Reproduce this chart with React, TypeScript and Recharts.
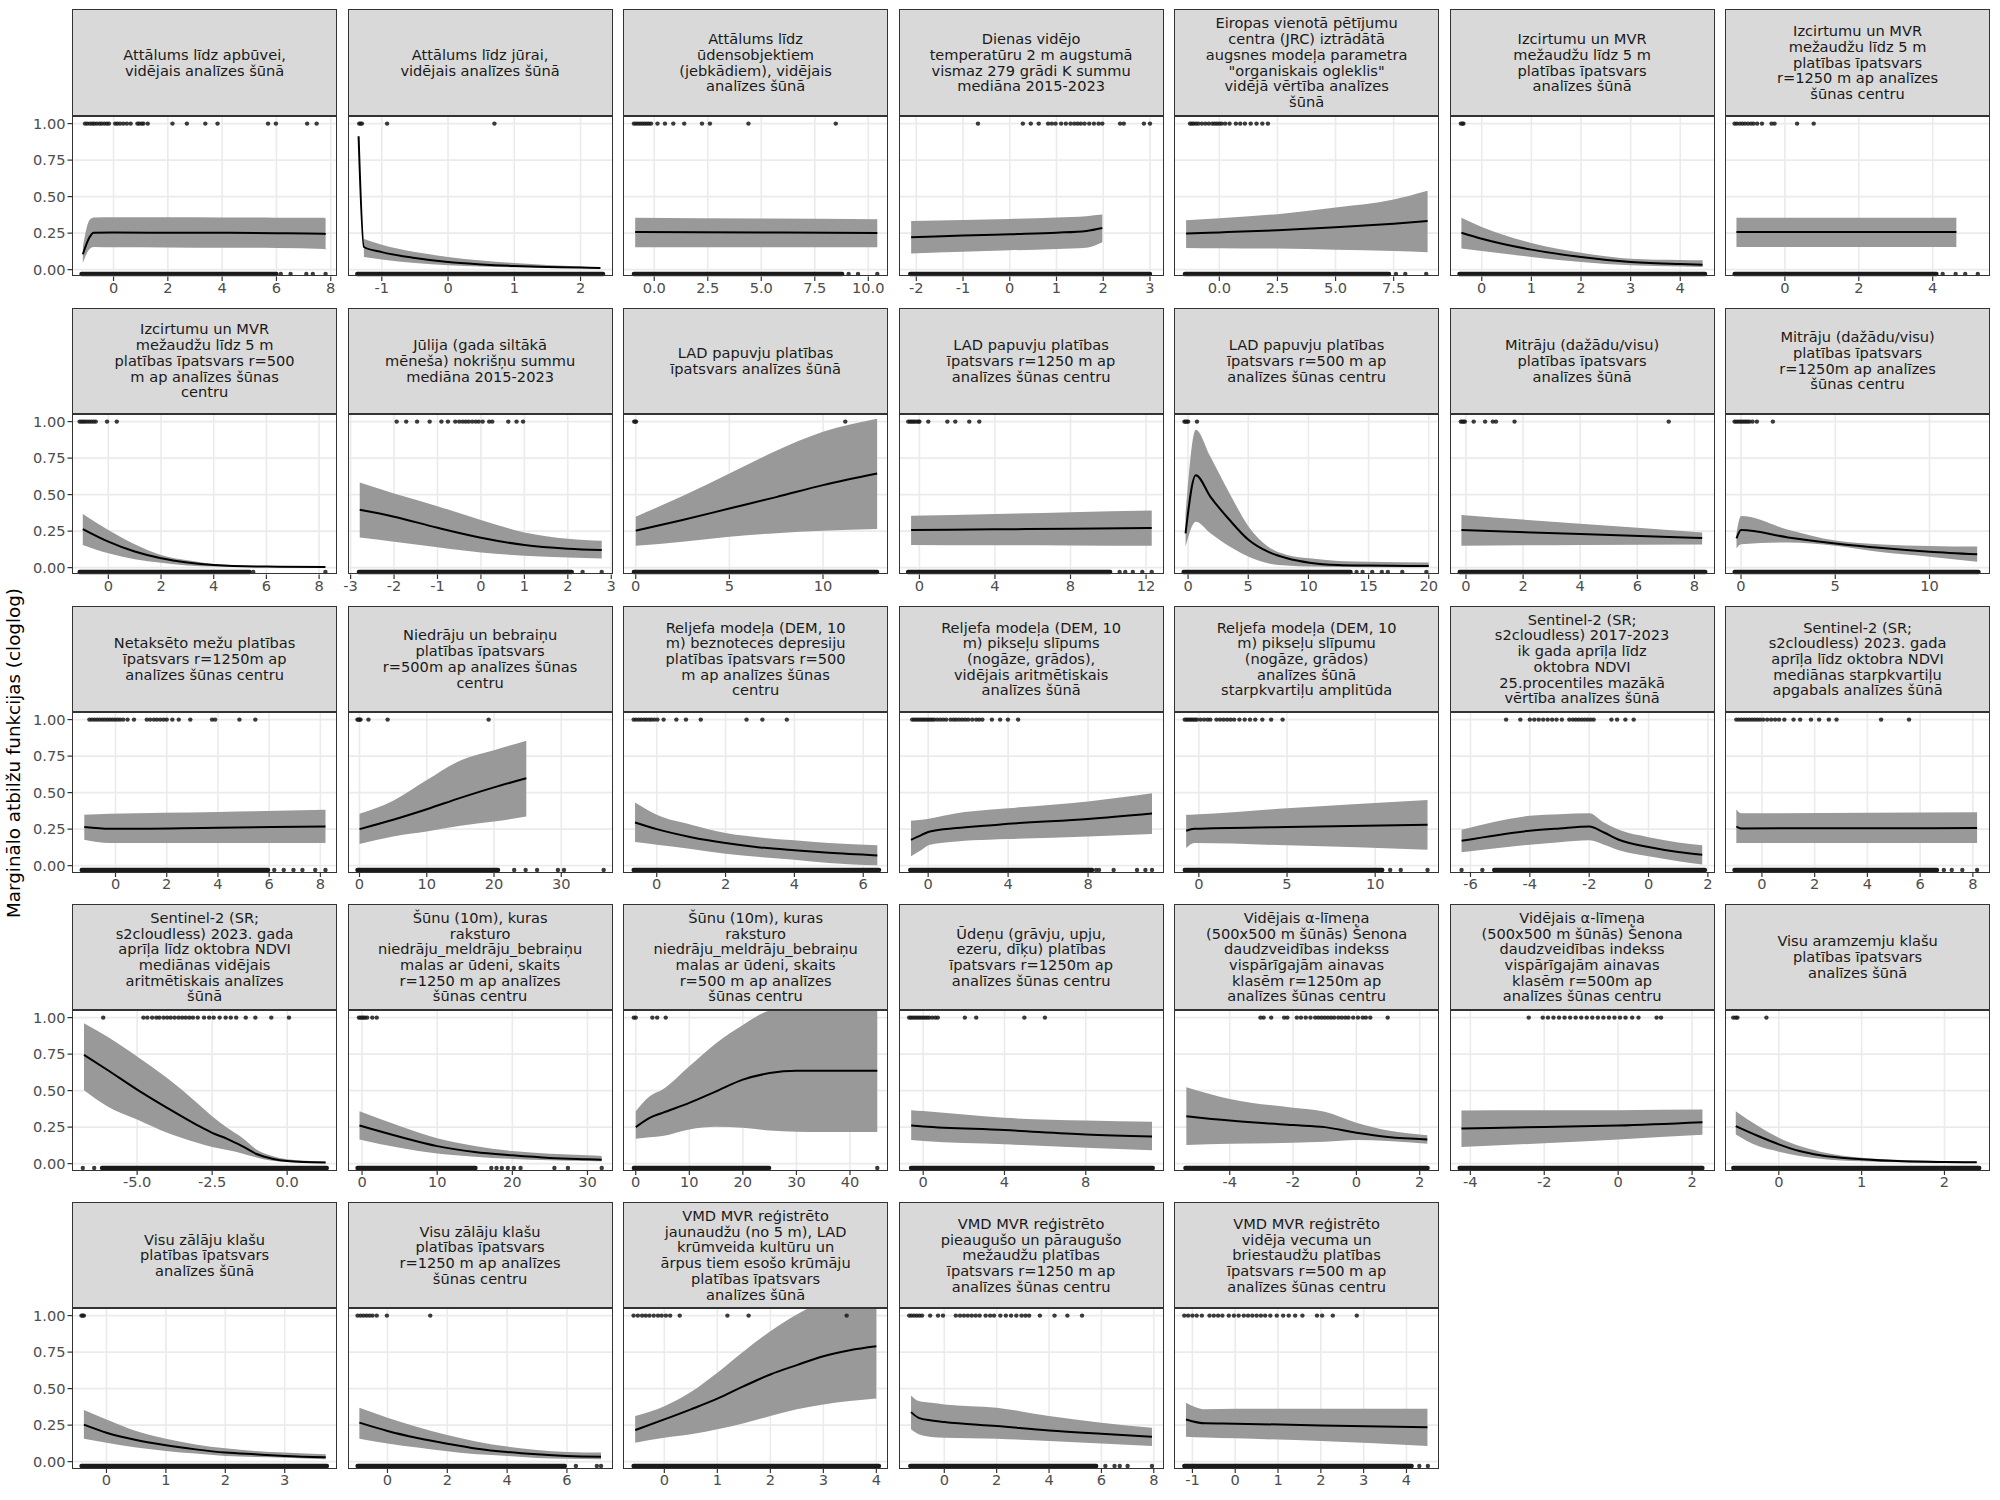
import React from 'react';
import { ComposedChart, Area, Line, Scatter, XAxis, YAxis, ReferenceLine } from 'recharts';

// ---------------- DATA ----------------
const TITLES: string[][] = [
  ['Attālums līdz apbūvei,', 'vidējais analīzes šūnā'],
  ['Attālums līdz jūrai,', 'vidējais analīzes šūnā'],
  ['Attālums līdz', 'ūdensobjektiem', '(jebkādiem), vidējais', 'analīzes šūnā'],
  ['Dienas vidējo', 'temperatūru 2 m augstumā', 'vismaz 279 grādi K summu', 'mediāna 2015-2023'],
  ['Eiropas vienotā pētījumu', 'centra (JRC) iztrādātā', 'augsnes modeļa parametra', '"organiskais ogleklis"', 'vidējā vērtība analīzes', 'šūnā'],
  ['Izcirtumu un MVR', 'mežaudžu līdz 5 m', 'platības īpatsvars', 'analīzes šūnā'],
  ['Izcirtumu un MVR', 'mežaudžu līdz 5 m', 'platības īpatsvars', 'r=1250 m ap analīzes', 'šūnas centru'],
  ['Izcirtumu un MVR', 'mežaudžu līdz 5 m', 'platības īpatsvars r=500', 'm ap analīzes šūnas', 'centru'],
  ['Jūlija (gada siltākā', 'mēneša) nokrišņu summu', 'mediāna 2015-2023'],
  ['LAD papuvju platības', 'īpatsvars analīzes šūnā'],
  ['LAD papuvju platības', 'īpatsvars r=1250 m ap', 'analīzes šūnas centru'],
  ['LAD papuvju platības', 'īpatsvars r=500 m ap', 'analīzes šūnas centru'],
  ['Mitrāju (dažādu/visu)', 'platības īpatsvars', 'analīzes šūnā'],
  ['Mitrāju (dažādu/visu)', 'platības īpatsvars', 'r=1250m ap analīzes', 'šūnas centru'],
  ['Netaksēto mežu platības', 'īpatsvars r=1250m ap', 'analīzes šūnas centru'],
  ['Niedrāju un bebraiņu', 'platības īpatsvars', 'r=500m ap analīzes šūnas', 'centru'],
  ['Reljefa modeļa (DEM, 10', 'm) beznoteces depresiju', 'platības īpatsvars r=500', 'm ap analīzes šūnas', 'centru'],
  ['Reljefa modeļa (DEM, 10', 'm) pikseļu slīpums', '(nogāze, grādos),', 'vidējais aritmētiskais', 'analīzes šūnā'],
  ['Reljefa modeļa (DEM, 10', 'm) pikseļu slīpumu', '(nogāze, grādos)', 'analīzes šūnā', 'starpkvartiļu amplitūda'],
  ['Sentinel-2 (SR;', 's2cloudless) 2017-2023', 'ik gada aprīļa līdz', 'oktobra NDVI', '25.procentiles mazākā', 'vērtība analīzes šūnā'],
  ['Sentinel-2 (SR;', 's2cloudless) 2023. gada', 'aprīļa līdz oktobra NDVI', 'mediānas starpkvartiļu', 'apgabals analīzes šūnā'],
  ['Sentinel-2 (SR;', 's2cloudless) 2023. gada', 'aprīļa līdz oktobra NDVI', 'mediānas vidējais', 'aritmētiskais analīzes', 'šūnā'],
  ['Šūnu (10m), kuras', 'raksturo', 'niedrāju_meldrāju_bebraiņu', 'malas ar ūdeni, skaits', 'r=1250 m ap analīzes', 'šūnas centru'],
  ['Šūnu (10m), kuras', 'raksturo', 'niedrāju_meldrāju_bebraiņu', 'malas ar ūdeni, skaits', 'r=500 m ap analīzes', 'šūnas centru'],
  ['Ūdeņu (grāvju, upju,', 'ezeru, dīķu) platības', 'īpatsvars r=1250m ap', 'analīzes šūnas centru'],
  ['Vidējais α-līmeņa', '(500x500 m šūnās) Šenona', 'daudzveidības indekss', 'vispārīgajām ainavas', 'klasēm r=1250m ap', 'analīzes šūnas centru'],
  ['Vidējais α-līmeņa', '(500x500 m šūnās) Šenona', 'daudzveidības indekss', 'vispārīgajām ainavas', 'klasēm r=500m ap', 'analīzes šūnas centru'],
  ['Visu aramzemju klašu', 'platības īpatsvars', 'analīzes šūnā'],
  ['Visu zālāju klašu', 'platības īpatsvars', 'analīzes šūnā'],
  ['Visu zālāju klašu', 'platības īpatsvars', 'r=1250 m ap analīzes', 'šūnas centru'],
  ['VMD MVR reģistrēto', 'jaunaudžu (no 5 m), LAD', 'krūmveida kultūru un', 'ārpus tiem esošo krūmāju', 'platības īpatsvars', 'analīzes šūnā'],
  ['VMD MVR reģistrēto', 'pieaugušo un pāraugušo', 'mežaudžu platības', 'īpatsvars r=1250 m ap', 'analīzes šūnas centru'],
  ['VMD MVR reģistrēto', 'vidēja vecuma un', 'briestaudžu platības', 'īpatsvars r=500 m ap', 'analīzes šūnas centru'],
];

const X_DOMAINS: [number, number][] = [
  [-1.53, 8.23], [-1.51, 2.49], [-1.46, 10.92], [-2.37, 3.3], [-1.95, 9.45], [-0.64, 4.7], [-1.62, 5.55],
  [-1.38, 8.68], [-3.06, 3.04], [-0.68, 13.47], [-1.08, 12.95], [-1.17, 20.85], [-0.56, 8.72], [-0.85, 13.21],
  [-1.7, 8.65], [-1.71, 37.69], [-0.98, 6.72], [-1.46, 11.8], [-1.41, 13.62], [-6.69, 2.24], [-1.4, 8.65],
  [-7.17, 1.66], [-1.87, 33.4], [-2.38, 47.1], [-1.19, 11.85], [-5.76, 2.61], [-4.55, 2.62], [-0.65, 2.55],
  [-0.58, 3.88], [-1.32, 7.54], [-0.78, 4.22], [-1.73, 8.39], [-1.43, 4.76],
];

const X_TICKS: number[][] = [
  [0, 2, 4, 6, 8], [-1, 0, 1, 2], [0, 2.5, 5, 7.5, 10], [-2, -1, 0, 1, 2, 3], [0, 2.5, 5, 7.5], [0, 1, 2, 3, 4], [0, 2, 4],
  [0, 2, 4, 6, 8], [-3, -2, -1, 0, 1, 2, 3], [0, 5, 10], [0, 4, 8, 12], [0, 5, 10, 15, 20], [0, 2, 4, 6, 8], [0, 5, 10],
  [0, 2, 4, 6, 8], [0, 10, 20, 30], [0, 2, 4, 6], [0, 4, 8], [0, 5, 10], [-6, -4, -2, 0, 2], [0, 2, 4, 6, 8],
  [-5, -2.5, 0], [0, 10, 20, 30], [0, 10, 20, 30, 40], [0, 4, 8], [-4, -2, 0, 2], [-4, -2, 0, 2], [0, 1, 2],
  [0, 1, 2, 3], [0, 2, 4, 6], [0, 1, 2, 3, 4], [0, 2, 4, 6, 8], [-1, 0, 1, 2, 3, 4],
];

const TICK_DECIMALS: number[] = [
  0, 0, 1, 0, 1, 0, 0,
  0, 0, 0, 0, 0, 0, 0,
  0, 0, 0, 0, 0, 0, 0,
  1, 0, 0, 0, 0, 0, 0,
  0, 0, 0, 0, 0,
];

const Y_TICKS = [0, 0.25, 0.5, 0.75, 1];
const PRESENCE_Y = 1;
const BACKGROUND_Y = -0.03;

const CURVE_X: number[][] = [
  [-1.13, -0.89, -0.73, 0, 2, 4, 6, 7.76, 7.81],
  [-1.35, -1.27, -1.0, -0.5, 0, 0.5, 1, 1.5, 2, 2.3],
  [-0.89, 5, 10.42],
  [-2.11, -1, 0, 1, 1.64, 1.98],
  [-1.43, 0, 2.5, 5, 7.5, 8.96],
  [-0.41, 0, 1, 2, 3, 4, 4.45],
  [-1.31, 1.5, 4.64],
  [-0.97, 0, 1, 2, 3, 4, 6, 8.24],
  [-2.79, -2, -1, 0, 1, 2, 2.78],
  [0, 2.5, 5, 7.5, 10, 12.89],
  [-0.44, 4, 8, 12.3],
  [-0.21, 0.64, 1.86, 3.45, 5.04, 6.63, 8.22, 10.08, 12.47, 15, 20],
  [-0.16, 4, 8.27],
  [-0.24, 0, 2.5, 5, 7.5, 10, 12.53],
  [-1.22, -0.22, 4, 8.2],
  [0, 5, 10, 15, 20, 24.8],
  [-0.63, 0, 1, 2, 3, 4, 5, 6.41],
  [-0.86, -0.32, 0.09, 1.43, 3.03, 4, 8, 11.2],
  [-0.72, -0.25, 5, 12.97],
  [-6.3, -4, -3, -2, -1.5, -1, 0, 1, 1.81],
  [-0.97, -0.8, 4, 8.16],
  [-6.77, -6, -5, -4, -3, -2.5, -2, -1.5, -1, -0.5, 0, 1.28],
  [-0.34, 5, 10, 15, 20, 25, 30, 31.9],
  [0, 2.6, 5, 10, 15, 20, 25, 30, 35, 45.1],
  [-0.59, 0, 4, 8, 11.26],
  [-5.37, -4, -2, -1, 0, 1, 2.24],
  [-4.24, -2, 0, 2.28],
  [-0.52, -0.25, 0, 0.25, 0.5, 1, 1.5, 2, 2.39],
  [-0.38, 0, 0.5, 1, 1.5, 2, 2.5, 3, 3.69],
  [-0.94, 0, 1, 2, 3, 4, 5, 6, 7.14],
  [-0.55, 0, 0.5, 1, 1.5, 2, 2.5, 3, 3.5, 4],
  [-1.27, -0.98, -0.49, 0, 2, 4, 6, 7.93],
  [-1.15, -0.7, 0, 2, 4.49],
];

const CURVE_MEAN: number[][] = [
  [0.105, 0.22, 0.253, 0.254, 0.253, 0.252, 0.25, 0.246, 0.24],
  [0.913, 0.155, 0.12, 0.08, 0.052, 0.036, 0.025, 0.018, 0.014, 0.011],
  [0.258, 0.255, 0.251],
  [0.221, 0.233, 0.243, 0.253, 0.265, 0.285],
  [0.247, 0.255, 0.27, 0.29, 0.315, 0.333],
  [0.253, 0.212, 0.137, 0.087, 0.053, 0.038, 0.034],
  [0.258, 0.258, 0.258],
  [0.264, 0.178, 0.11, 0.064, 0.035, 0.018, 0.007, 0.005],
  [0.396, 0.349, 0.273, 0.205, 0.155, 0.13, 0.12],
  [0.253, 0.326, 0.405, 0.483, 0.565, 0.645],
  [0.257, 0.262, 0.267, 0.271],
  [0.235, 0.633, 0.485, 0.326, 0.189, 0.109, 0.064, 0.034, 0.018, 0.014, 0.011],
  [0.257, 0.23, 0.203],
  [0.2, 0.257, 0.207, 0.166, 0.134, 0.109, 0.091],
  [0.264, 0.252, 0.26, 0.268],
  [0.25, 0.314, 0.386, 0.464, 0.536, 0.598],
  [0.295, 0.25, 0.195, 0.155, 0.125, 0.105, 0.088, 0.07],
  [0.177, 0.211, 0.234, 0.257, 0.275, 0.286, 0.32, 0.357],
  [0.239, 0.252, 0.264, 0.28],
  [0.17, 0.239, 0.255, 0.268, 0.227, 0.177, 0.127, 0.093, 0.075],
  [0.268, 0.255, 0.256, 0.257],
  [0.745, 0.643, 0.507, 0.382, 0.264, 0.211, 0.17, 0.12, 0.064, 0.034, 0.018, 0.007],
  [0.261, 0.184, 0.12, 0.08, 0.057, 0.039, 0.03, 0.027],
  [0.25, 0.314, 0.348, 0.416, 0.495, 0.575, 0.62, 0.636, 0.636, 0.636],
  [0.261, 0.255, 0.23, 0.2, 0.186],
  [0.325, 0.295, 0.264, 0.25, 0.211, 0.182, 0.166],
  [0.241, 0.251, 0.261, 0.284],
  [0.257, 0.189, 0.132, 0.086, 0.057, 0.03, 0.016, 0.011, 0.009],
  [0.253, 0.198, 0.148, 0.112, 0.084, 0.062, 0.05, 0.039, 0.03],
  [0.267, 0.21, 0.162, 0.123, 0.089, 0.066, 0.05, 0.039, 0.034],
  [0.216, 0.289, 0.358, 0.431, 0.517, 0.597, 0.661, 0.722, 0.763, 0.79],
  [0.339, 0.3, 0.282, 0.271, 0.244, 0.214, 0.191, 0.171],
  [0.289, 0.262, 0.26, 0.248, 0.235],
];

const CURVE_LOW: (number | null)[][] = [
  [0.045, 0.14, 0.155, 0.153, 0.152, 0.15, 0.148, 0.142, 0.135],
  [null, 0.087, 0.07, 0.045, 0.03, 0.022, 0.016, 0.012, 0.01, 0.008],
  [0.153, 0.153, 0.153],
  [0.11, 0.122, 0.132, 0.142, 0.15, 0.187],
  [0.149, 0.147, 0.144, 0.137, 0.128, 0.119],
  [0.144, 0.128, 0.087, 0.053, 0.03, 0.021, 0.018],
  [0.155, 0.155, 0.155],
  [0.155, 0.098, 0.058, 0.034, 0.015, 0.007, 0.003, 0.002],
  [0.207, 0.178, 0.139, 0.103, 0.082, 0.07, 0.062],
  [0.15, 0.178, 0.212, 0.236, 0.252, 0.264],
  [0.155, 0.153, 0.152, 0.15],
  [0.144, 0.314, 0.235, 0.144, 0.075, 0.03, 0.014, 0.007, 0.004, 0.003, 0.003],
  [0.15, 0.155, 0.159],
  [0.132, 0.16, 0.172, 0.15, 0.105, 0.075, 0.04],
  [0.177, 0.155, 0.155, 0.155],
  [0.148, 0.2, 0.234, 0.273, 0.302, 0.336],
  [0.161, 0.143, 0.114, 0.082, 0.059, 0.041, 0.018, 0.002],
  [0.064, 0.109, 0.143, 0.166, 0.177, 0.182, 0.2, 0.216],
  [0.12, 0.155, 0.139, 0.109],
  [0.091, 0.143, 0.16, 0.173, 0.143, 0.105, 0.064, 0.03, 0.007],
  [0.155, 0.155, 0.155, 0.155],
  [0.502, 0.393, 0.302, 0.211, 0.143, 0.114, 0.093, 0.07, 0.041, 0.02, 0.011, 0.002],
  [0.166, 0.109, 0.07, 0.048, 0.032, 0.023, 0.018, 0.016],
  [0.17, 0.18, 0.189, 0.234, 0.252, 0.245, 0.227, 0.218, 0.216, 0.216],
  [0.161, 0.155, 0.132, 0.109, 0.091],
  [0.127, 0.136, 0.143, 0.15, 0.161, 0.155, 0.136],
  [0.114, 0.14, 0.166, 0.198],
  [0.2, 0.12, 0.082, 0.052, 0.034, 0.016, 0.009, 0.007, 0.007],
  [0.157, 0.13, 0.096, 0.073, 0.055, 0.039, 0.032, 0.027, 0.016],
  [0.157, 0.125, 0.096, 0.071, 0.05, 0.039, 0.025, 0.02, 0.016],
  [0.13, 0.164, 0.187, 0.221, 0.262, 0.312, 0.358, 0.392, 0.415, 0.433],
  [0.221, 0.187, 0.169, 0.164, 0.157, 0.141, 0.125, 0.107],
  [0.171, 0.166, 0.16, 0.141, 0.107],
];

const CURVE_HIGH: (number | null)[][] = [
  [0.155, 0.338, 0.357, 0.358, 0.358, 0.357, 0.356, 0.355, 0.35],
  [null, 0.21, 0.17, 0.12, 0.087, 0.062, 0.046, 0.032, 0.022, 0.016],
  [0.356, 0.35, 0.345],
  [0.333, 0.34, 0.347, 0.357, 0.366, 0.377],
  [0.338, 0.352, 0.38, 0.425, 0.48, 0.54],
  [0.356, 0.292, 0.183, 0.116, 0.075, 0.066, 0.064],
  [0.356, 0.356, 0.356],
  [0.367, 0.257, 0.16, 0.087, 0.05, 0.025, 0.01, 0.006],
  [0.583, 0.508, 0.421, 0.326, 0.241, 0.198, 0.184],
  [0.349, 0.49, 0.645, 0.8, 0.93, 1.02],
  [0.355, 0.367, 0.38, 0.392],
  [0.371, 0.945, 0.759, 0.508, 0.28, 0.144, 0.087, 0.064, 0.046, 0.041, 0.036],
  [0.36, 0.3, 0.241],
  [0.235, 0.353, 0.26, 0.185, 0.158, 0.148, 0.144],
  [0.348, 0.355, 0.368, 0.382],
  [0.355, 0.445, 0.586, 0.72, 0.79, 0.855],
  [0.432, 0.348, 0.28, 0.223, 0.193, 0.173, 0.155, 0.139],
  [0.307, 0.314, 0.323, 0.359, 0.382, 0.393, 0.439, 0.495],
  [0.348, 0.35, 0.393, 0.45],
  [0.245, 0.341, 0.352, 0.359, 0.295, 0.245, 0.195, 0.159, 0.139],
  [0.386, 0.359, 0.362, 0.366],
  [0.961, 0.87, 0.734, 0.586, 0.416, 0.325, 0.245, 0.177, 0.093, 0.052, 0.03, 0.014],
  [0.359, 0.257, 0.173, 0.12, 0.086, 0.068, 0.057, 0.052],
  [0.359, 0.461, 0.507, 0.666, 0.825, 0.95, 1.05, 1.08, 1.09, 1.09],
  [0.366, 0.36, 0.314, 0.295, 0.286],
  [0.523, 0.443, 0.382, 0.355, 0.28, 0.227, 0.195],
  [0.364, 0.365, 0.366, 0.37],
  [0.359, 0.257, 0.177, 0.12, 0.082, 0.041, 0.025, 0.018, 0.014],
  [0.353, 0.289, 0.21, 0.157, 0.118, 0.091, 0.073, 0.062, 0.05],
  [0.369, 0.301, 0.237, 0.182, 0.137, 0.103, 0.08, 0.066, 0.062],
  [0.312, 0.38, 0.476, 0.608, 0.756, 0.893, 1.007, 1.1, 1.15, 1.2],
  [0.453, 0.415, 0.403, 0.392, 0.369, 0.312, 0.267, 0.232],
  [0.403, 0.358, 0.362, 0.362, 0.362],
];

// presence points (y = 1)
const PRESENCE_X: number[][] = [
  [-1.05, -0.97, -0.87, -0.78, -0.71, -0.62, -0.52, -0.44, -0.34, -0.25, -0.17, 0.06, 0.14, 0.24, 0.36, 0.49, 0.63, 0.88, 0.95, 1.04, 1.1, 1.26, 2.17, 2.7, 3.38, 3.83, 5.69, 5.98, 7.13, 7.48],
  [-1.34, -1.32, -1.3, -0.92, 0.7],
  [-0.95, -0.85, -0.75, -0.65, -0.55, -0.45, -0.35, -0.25, -0.15, 0.15, 0.5, 0.89, 1.4, 2.23, 2.6, 4.4, 8.48],
  [-0.68, 0.28, 0.45, 0.62, 0.82, 0.9, 0.98, 1.1, 1.2, 1.3, 1.38, 1.45, 1.52, 1.6, 1.7, 1.8, 1.9, 1.98, 2.36, 2.44, 2.87, 3.0],
  [-1.26, -1.18, -1.1, -1.0, -0.9, -0.75, -0.6, -0.45, -0.3, -0.2, -0.1, 0.0, 0.1, 0.25, 0.44, 0.71, 0.9, 1.1, 1.35, 1.6, 1.85, 2.09],
  [-0.42, -0.39, -0.37],
  [-1.36, -1.3, -1.22, -1.15, -1.08, -1.0, -0.92, -0.85, -0.75, -0.62, -0.36, -0.28, 0.33, 0.78],
  [-1.09, -1.02, -0.95, -0.88, -0.8, -0.72, -0.64, -0.56, -0.48, -0.05, 0.32],
  [-1.94, -1.72, -1.47, -1.18, -0.91, -0.76, -0.59, -0.5, -0.42, -0.35, -0.28, -0.2, -0.12, -0.05, 0.04, 0.19, 0.26, 0.63, 0.82, 0.97],
  [-0.08, -0.03, 0.02, 11.19],
  [-0.59, -0.5, -0.42, -0.33, -0.25, -0.15, -0.05, 0.0, 0.47, 1.48, 1.9, 2.64, 3.17],
  [-0.3, -0.2, -0.1, 0.0, 0.74],
  [-0.18, -0.13, -0.08, -0.04, 0.27, 0.67, 0.94, 1.05, 1.7, 7.1],
  [-0.34, -0.25, -0.15, -0.05, 0.05, 0.15, 0.25, 0.35, 0.45, 0.61, 0.84, 1.69],
  [-1.02, -0.92, -0.82, -0.72, -0.62, -0.52, -0.42, -0.32, -0.22, -0.12, -0.02, 0.08, 0.18, 0.3, 0.47, 0.72, 1.22, 1.35, 1.5, 1.62, 1.75, 1.88, 2.0, 2.22, 2.47, 2.92, 3.77, 3.89, 4.84, 5.46],
  [-0.3, -0.15, 0, 0.15, 1.33, 4.18, 19.2],
  [-0.67, -0.6, -0.52, -0.45, -0.37, -0.3, -0.22, -0.15, -0.07, 0.02, 0.2, 0.57, 0.85, 1.28, 2.61, 3.07, 3.78],
  [-0.8, -0.7, -0.6, -0.5, -0.4, -0.3, -0.2, -0.1, 0.0, 0.1, 0.2, 0.3, 0.45, 0.6, 0.75, 0.9, 1.12, 1.27, 1.4, 1.55, 1.7, 1.85, 2.0, 2.2, 2.4, 2.55, 2.71, 3.19, 3.6, 3.99, 4.5],
  [-0.8, -0.7, -0.6, -0.5, -0.4, -0.3, -0.2, -0.1, 0.1, 0.3, 0.5, 0.65, 1.0, 1.2, 1.4, 1.6, 1.8, 2.0, 2.3, 2.6, 2.9, 3.2, 3.6, 4.1, 4.75],
  [-4.8, -4.32, -4.0, -3.85, -3.7, -3.55, -3.4, -3.25, -3.1, -2.92, -2.67, -2.55, -2.45, -2.35, -2.25, -2.15, -2.05, -1.95, -1.85, -1.25, -1.06, -0.78, -0.5],
  [-0.97, -0.87, -0.77, -0.67, -0.57, -0.47, -0.37, -0.27, -0.17, -0.07, 0.05, 0.2, 0.35, 0.5, 0.65, 0.85, 1.2, 1.45, 1.86, 2.17, 2.54, 2.83, 4.52, 5.58],
  [-6.13, -4.79, -4.66, -4.5, -4.36, -4.26, -4.12, -4.0, -3.88, -3.75, -3.62, -3.5, -3.38, -3.26, -3.14, -2.98, -2.77, -2.6, -2.45, -2.25, -2.05, -1.88, -1.7, -1.38, -1.06, -0.53, 0.06],
  [-0.42, -0.2, 0, 0.2, 0.4, 0.68, 1.36, 1.95],
  [-0.36, 0, 3.1, 4.0, 5.6],
  [-0.69, -0.6, -0.5, -0.4, -0.3, -0.2, -0.1, 0.0, 0.1, 0.2, 0.3, 0.45, 0.6, 0.72, 2.05, 2.61, 4.98, 5.99],
  [-3.03, -2.93, -2.69, -2.28, -2.18, -1.88, -1.75, -1.6, -1.45, -1.3, -1.2, -1.1, -1.0, -0.9, -0.8, -0.7, -0.57, -0.46, -0.35, -0.25, -0.1, 0.05, 0.2, 0.3, 0.44, 0.99],
  [-2.42, -2.04, -1.9, -1.75, -1.6, -1.45, -1.3, -1.15, -1.0, -0.85, -0.7, -0.55, -0.4, -0.25, -0.1, 0.05, 0.2, 0.38, 0.55, 1.04, 1.16],
  [-0.55, -0.52, -0.5, -0.15],
  [-0.42, -0.4, -0.38],
  [-1.0, -0.9, -0.8, -0.7, -0.6, -0.5, -0.36, -0.02, 1.43],
  [-0.58, -0.5, -0.42, -0.35, -0.28, -0.2, -0.12, -0.05, 0.03, 0.11, 0.29, 1.19, 1.59, 3.44],
  [-1.34, -1.25, -1.15, -1.05, -0.95, -0.85, -0.54, -0.24, -0.05, 0.44, 0.6, 0.75, 0.9, 1.05, 1.2, 1.35, 1.58, 1.75, 1.9, 2.14, 2.35, 2.55, 2.75, 2.95, 3.1, 3.24, 3.65, 4.21, 4.7, 5.26],
  [-1.19, -1.1, -1.0, -0.9, -0.78, -0.6, -0.5, -0.4, -0.3, -0.15, -0.03, 0.08, 0.2, 0.3, 0.4, 0.5, 0.6, 0.7, 0.82, 0.97, 1.12, 1.25, 1.4, 1.57, 1.91, 2.03, 2.28, 2.84],
];

// background points (y = BACKGROUND_Y): dense runs [from, to] plus sparse single points
const BACKGROUND_RUNS: [number, number][][] = [
  [[-1.18, 6.0]], [[-1.37, 2.34]], [[-0.95, 8.78]], [[-2.13, 3.0]], [[-1.48, 7.3]], [[-0.45, 4.5]], [[-1.36, 4.1]],
  [[-1.09, 5.36]], [[-2.81, 2.09]], [[-0.1, 12.89]], [[-0.6, 10.1]], [[-0.37, 13.5]], [[-0.22, 8.38]], [[-0.34, 12.6]],
  [[-1.32, 5.96]], [[-0.3, 20.6]], [[-0.67, 6.46]], [[-0.9, 8.2]], [[-0.8, 10.4]], [[-5.2, 1.9]], [[-1.04, 6.64]],
  [[-6.17, 1.32]], [[-0.6, 15.1]], [[-0.36, 24.9]], [[-0.6, 11.3]], [[-5.4, 2.25]], [[-4.29, 2.28]], [[-0.55, 2.42]],
  [[-0.42, 3.71]], [[-1.0, 5.93]], [[-0.58, 4.05]], [[-1.3, 5.8]], [[-1.19, 4.12]],
];

const BACKGROUND_X: number[][] = [
  [6.16, 6.52, 7.1, 7.34, 7.81], [], [9.08, 9.52, 10.42], [], [7.6, 8.0, 8.9], [], [4.27, 4.62, 4.88, 5.22],
  [5.5, 8.24], [2.34, 2.78], [], [10.6, 10.9, 11.3, 11.8, 12.3], [14.0, 14.5, 15.3, 16.1, 16.6, 17.8, 19.8], [], [],
  [6.2, 6.57, 6.95, 7.3, 7.8, 8.2], [23.0, 24.7, 26.4, 29.5, 30.4, 36.3], [], [8.4, 8.55, 9.28, 10.45, 10.87, 11.2], [10.85, 11.45, 12.97], [-6.3, -5.6], [6.9, 7.2, 7.6, 8.16],
  [-6.81, -6.43], [17.2, 17.9, 18.6, 19.4, 20.2, 21.1, 25.6, 27.4, 31.9], [45.1], [], [], [], [],
  [], [6.3, 7.0, 7.14], [], [6.15, 6.5, 6.7, 7.0, 7.93], [4.3, 4.5],
];

const Y_TITLE = 'Marginālo atbilžu funkcijas (cloglog)';

// ---------------- LAYOUT ----------------
const FONT = '"DejaVu Sans", Verdana, sans-serif';
const NCOL = 7;
const PANEL_LEFT0 = 72.1;
const COL_STEP = 275.5;
const PANEL_W = 265;
const PANEL_TOP0 = 115.7;
const ROW_STEP = 298.15;
const PANEL_H = 160.5;
const STRIP_H = 106.3;
const AXIS_H = 30;
const YAXIS_W = 60;
const Y_DOMAIN: [number, number] = [-0.047, 1.052];
const BORDER = '#333333';
const GRID = '#EBEBEB';

const Dot = (props: any) => {
  const { cx, cy } = props;
  if (cx == null || cy == null) return null;
  return <circle cx={cx} cy={cy} r={2.2} fill="#1a1a1a" fillOpacity={0.85} />;
};

function Panel({ i }: { i: number }) {
  const col = i % NCOL;
  const row = Math.floor(i / NCOL);
  const left = PANEL_LEFT0 + col * COL_STEP;
  const top = PANEL_TOP0 + row * ROW_STEP;
  const first = col === 0;
  const yw = first ? YAXIS_W : 0;
  const rows = CURVE_X[i].map((x, j) => {
    const lo = CURVE_LOW[i][j];
    const hi = CURVE_HIGH[i][j];
    return { x, mean: CURVE_MEAN[i][j], range: lo == null || hi == null ? null : [lo, hi] };
  });
  const presence = PRESENCE_X[i].map((x) => ({ x, y: PRESENCE_Y }));
  const background = BACKGROUND_X[i].map((x) => ({ x, y: BACKGROUND_Y }));
  const dec = TICK_DECIMALS[i];
  const tickStyle = { fill: '#4D4D4D', fontSize: 14.6, fontFamily: FONT };
  const W = PANEL_W + yw;
  const H = PANEL_H + AXIS_H;
  const box: React.CSSProperties = { position: 'absolute', left: left - yw, top, width: W, height: H, fontFamily: FONT };
  const margin = { top: 0, right: 0, bottom: 0, left: 0 };
  return (
    <>
      <div
        style={{
          position: 'absolute', left, top: top - STRIP_H, width: PANEL_W, height: STRIP_H,
          background: '#D9D9D9', border: `1.3px solid ${BORDER}`, boxSizing: 'border-box',
          display: 'flex', flexDirection: 'column', alignItems: 'center', justifyContent: 'center',
          fontFamily: FONT, fontSize: 14.6, lineHeight: '15.7px', color: '#1A1A1A', textAlign: 'center',
        }}
      >
        {TITLES[i].map((t, k) => (
          <div key={k} style={{ whiteSpace: 'nowrap' }}>{t}</div>
        ))}
      </div>
      {/* underlying grid layer */}
      <div style={box}>
        <ComposedChart width={W} height={H} data={rows} margin={margin}>
          <XAxis
            type="number" dataKey="x" domain={X_DOMAINS[i]} allowDataOverflow ticks={X_TICKS[i]} interval={0}
            height={AXIS_H} tick={false} tickLine={false} axisLine={false}
          />
          <YAxis
            type="number" domain={Y_DOMAIN} allowDataOverflow ticks={Y_TICKS} interval={0} width={yw}
            tick={false} tickLine={false} axisLine={false}
          />
          {X_TICKS[i].map((t) => (
            <ReferenceLine key={'v' + t} x={t} stroke={GRID} strokeWidth={1.6} />
          ))}
          {Y_TICKS.map((t) => (
            <ReferenceLine key={'h' + t} y={t} stroke={GRID} strokeWidth={1.6} />
          ))}
        </ComposedChart>
      </div>
      {/* data layer */}
      <div style={box}>
        <ComposedChart width={W} height={H} data={rows} margin={margin}>
          <XAxis
            type="number" dataKey="x" domain={X_DOMAINS[i]} allowDataOverflow ticks={X_TICKS[i]} interval={0}
            height={AXIS_H} tickSize={4.5} tickMargin={2} axisLine={false}
            tickLine={{ stroke: BORDER, strokeWidth: 1.2 }} tick={tickStyle}
            tickFormatter={(v: number) => v.toFixed(dec)}
          />
          {first ? (
            <YAxis
              type="number" domain={Y_DOMAIN} allowDataOverflow ticks={Y_TICKS} interval={0} width={yw}
              tickSize={4.5} tickMargin={2} axisLine={false}
              tickLine={{ stroke: BORDER, strokeWidth: 1.2 }} tick={tickStyle}
              tickFormatter={(v: number) => v.toFixed(2)}
            />
          ) : (
            <YAxis
              type="number" domain={Y_DOMAIN} allowDataOverflow ticks={Y_TICKS} interval={0} width={0}
              tick={false} tickLine={false} axisLine={false}
            />
          )}
          <Area
            dataKey="range" type="monotone" stroke="none" fill="#999999" fillOpacity={1}
            isAnimationActive={false} dot={false} activeDot={false} connectNulls={false}
          />
          <Line
            dataKey="mean" type="monotone" stroke="#000000" strokeWidth={2}
            isAnimationActive={false} dot={false} activeDot={false}
          />
          {BACKGROUND_RUNS[i].map((r, k) => (
            <ReferenceLine
              key={k}
              segment={[{ x: r[0], y: BACKGROUND_Y }, { x: r[1], y: BACKGROUND_Y }]}
              stroke="#1a1a1a" strokeWidth={4.4} strokeLinecap="round" ifOverflow="visible"
            />
          ))}
          <Scatter data={background} dataKey="y" shape={Dot} isAnimationActive={false} />
          <Scatter data={presence} dataKey="y" shape={Dot} isAnimationActive={false} />
        </ComposedChart>
      </div>
      <div
        style={{
          position: 'absolute', left, top, width: PANEL_W, height: PANEL_H,
          border: `1.3px solid ${BORDER}`, boxSizing: 'border-box', pointerEvents: 'none',
        }}
      />
    </>
  );
}

export default function App() {
  return (
    <div style={{ position: 'absolute', left: 0, top: 0, width: 2000, height: 1500, background: '#FFFFFF', overflow: 'hidden' }}>
      <style>{'.recharts-surface { overflow: visible; } .recharts-wrapper { overflow: visible; }'}</style>
      {TITLES.map((_, i) => (
        <Panel key={i} i={i} />
      ))}
      <div
        style={{
          position: 'absolute', left: 13, top: 753, transform: 'translate(-50%, -50%) rotate(-90deg)',
          whiteSpace: 'nowrap', fontFamily: FONT, fontSize: 18.3, color: '#000000',
        }}
      >
        {Y_TITLE}
      </div>
    </div>
  );
}
